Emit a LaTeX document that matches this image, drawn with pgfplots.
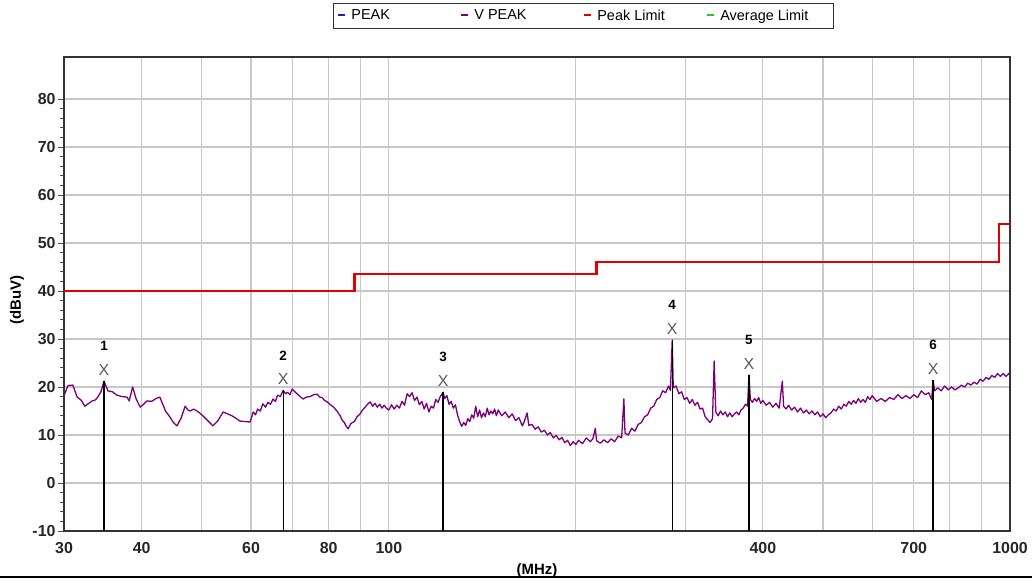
\documentclass[border=0pt]{standalone}
\usepackage{fontspec}
\setmainfont{Liberation Sans}
\usepackage{pgfplots}
\usepackage{pgfplotstable}
\pgfplotsset{compat=1.18}
\definecolor{vpeak}{HTML}{7A007A}
\definecolor{limred}{HTML}{E00000}
\definecolor{peakblue}{HTML}{2020C0}
\definecolor{avggreen}{HTML}{30C030}
\definecolor{gridgray}{HTML}{C8C8C8}
\newcommand{\legdash}[1]{\textcolor{#1}{\rule[0.3em]{7bp}{1.4bp}}\hspace{6bp}}

\pgfplotstableread{
f v
30.0 18.2
30.45 20.3
31.0 20.4
31.5 17.9
32.0 17.2
32.4 16.0
32.9 16.6
33.3 17.1
33.7 17.3
34.0 17.9
34.4 19.0
34.8 21.2
35.3 19.2
35.9 19.0
36.5 18.3
37.2 18.0
37.9 17.9
38.2 17.1
38.7 20.0
39.2 17.5
39.8 15.8
40.3 16.4
40.8 17.1
41.5 17.0
42.2 17.6
42.8 17.9
43.1 16.9
43.7 15.0
44.4 13.8
45.0 12.6
45.6 11.9
46.3 13.5
47.0 16.0
47.5 15.2
47.9 15.0
48.5 15.4
49.1 15.0
49.6 14.6
50.2 14.0
51.2 12.9
52.1 11.9
53.1 13.0
54.1 14.8
55.0 14.4
55.9 14.0
56.7 13.5
57.6 12.9
58.7 12.8
59.8 12.7
60.5 14.8
61.0 14.2
61.5 15.4
62.1 15.0
62.7 16.5
63.3 15.8
63.9 16.8
64.5 16.4
65.1 17.5
65.7 17.0
66.2 18.3
66.9 18.0
67.6 19.3
68.2 18.6
68.7 18.9
69.3 18.4
69.9 19.6
70.6 19.0
71.3 18.5
72.0 18.0
72.8 17.5
73.7 17.9
74.7 18.0
75.7 18.4
76.7 18.5
77.4 17.9
78.1 17.8
78.8 17.2
79.6 16.9
80.5 16.3
81.5 15.8
82.5 15.0
83.5 14.0
84.2 13.0
84.8 12.6
85.4 11.8
86.0 11.3
86.9 12.4
88.0 12.8
88.9 13.8
89.9 14.4
90.7 15.2
91.6 15.8
92.4 16.4
93.3 16.9
94.2 16.0
95.0 16.6
95.8 15.8
96.7 16.4
97.5 15.6
98.3 16.2
99.1 15.6
100 15.2
101 16.3
102 15.4
103 16.2
104 15.6
105 17.0
106 16.2
107 18.6
108 18.0
109 18.8
110 17.2
111 17.9
112 16.3
113 17.0
114 15.4
115 16.6
116 14.8
117 16.0
118 15.6
119 17.4
120 16.8
121 18.0
122.3 18.9
123 17.6
124 18.2
125 16.4
126 17.0
127 15.6
128 16.3
129 14.2
130 12.8
131 11.8
132 12.6
133 12.0
134 13.4
135 12.8
136 14.2
137 13.5
138 16.0
139 13.8
140 15.2
141 13.6
142 14.6
143 13.8
144 15.6
145 14.2
146 15.0
147 14.4
148 15.4
149 14.0
150 15.2
152 14.0
154 14.8
156 13.6
158 14.4
160 13.0
162 13.6
164 11.9
165 12.6
167 14.6
168 12.0
170 12.2
172 11.2
174 11.7
176 10.6
178 11.0
180 10.0
182 10.5
184 9.4
186 9.9
188 9.0
190 9.5
192 8.4
194 8.9
196 7.8
198 8.6
200 8.0
202 8.9
205 8.2
208 9.4
211 8.6
213 9.2
215 11.4
216 8.8
219 8.3
222 9.0
225 8.4
228 9.2
231 8.6
234 9.8
237 9.4
239 17.5
240 10.4
243 10.0
246 11.4
249 10.8
252 12.2
255 12.6
258 13.8
261 14.2
264 15.6
267 16.0
270 17.4
273 17.8
276 19.2
279 18.8
282 20.2
284 19.3
285.9 29.8
287 19.8
290 20.2
293 18.6
296 19.0
299 17.4
302 17.8
305 16.6
308 17.4
311 16.2
314 16.8
317 15.4
320 15.6
323 13.8
326 13.2
329 12.6
332 13.4
334 25.4
336 14.8
339 14.0
342 15.0
345 14.2
348 14.8
351 13.8
354 14.6
357 13.8
360 14.4
363 14.8
366 14.2
369 15.2
372 15.6
375 16.4
378 16.0
380 22.5
382 17.4
385 16.8
388 17.6
391 17.0
394 17.8
397 16.6
400 17.2
405 16.2
410 16.8
415 15.8
420 16.6
425 15.6
430 21.2
432 16.0
436 15.4
440 16.2
445 15.2
450 15.8
455 14.8
460 15.6
465 14.6
470 15.2
475 14.4
480 15.0
485 14.2
490 14.8
495 13.8
500 14.4
505 13.6
510 14.2
515 14.6
520 15.4
525 15.0
530 16.0
535 15.4
540 16.4
545 16.0
550 17.0
555 16.4
560 17.2
565 16.6
570 17.6
575 16.8
580 17.4
585 16.8
590 18.0
595 17.4
600 18.2
610 17.0
620 17.6
630 17.0
640 17.8
650 17.4
660 18.4
670 17.6
680 18.2
690 17.6
700 18.4
710 17.8
720 19.2
730 18.4
740 18.8
748 17.4
752 21.4
756 19.2
765 19.8
775 19.2
785 20.2
795 19.4
805 20.0
815 19.4
825 19.8
835 20.4
845 20.0
855 20.8
865 20.4
875 21.0
885 20.6
895 21.6
905 21.2
915 22.0
925 21.6
935 22.4
945 22.0
955 22.8
965 22.2
975 22.8
985 22.2
995 22.8
1000 22.4
}\trace

\pgfplotstableread{
f v
30 40
88 40
88 43.5
216 43.5
216 46
960 46
960 54
1000 54
}\peaklimit

\pgfplotstableread{
f v lab
34.8 21.2 1
67.6 19.3 2
122.3 18.9 3
285.9 29.8 4
380 22.5 5
752 21.4 6
}\markers

\begin{document}
\begin{tikzpicture}[x=1bp,y=1bp]
\useasboundingbox (0,0) rectangle (1032,581);
\begin{axis}[
  at={(64bp,50bp)}, anchor=south west,
  width=946bp, height=474bp, scale only axis,
  xmode=log, xmin=30, xmax=1000,
  ymin=-10, ymax=88.75,
  xtick={30,40,50,60,70,80,90,100,200,300,400,500,600,700,800,900,1000},
  xticklabels={30,40,,60,,80,,100,,,400,,,700,,,1000},
  xminorticks=false,
  ytick={-10,0,10,20,30,40,50,60,70,80},
  yticklabels={-10,0,10,20,30,40,50,60,70,80},
  minor y tick num=4,
  ytick pos=left,
  grid=major,
  major grid style={draw=gridgray, line width=1.2bp},
  axis line style={draw=black!80, line width=1.4bp},
  tick align=outside,
  major tick length=6bp, minor tick length=4bp,
  xtick style={draw=none},
  ytick style={draw=black!70, line width=0.8bp},
  tick label style={font=\fontsize{16}{16}\selectfont\bfseries, text=black!85},
  xticklabel style={yshift=-2bp},
  yticklabel style={xshift=1bp},
  xlabel={(MHz)},
  ylabel={(dBuV)},
  xlabel style={at={(axis description cs:0.5,-0.083)}, anchor=center, font=\fontsize{15}{15}\selectfont\bfseries},
  ylabel style={at={(axis description cs:-0.0497,0.487)}, anchor=center, rotate=0, font=\fontsize{15}{15}\selectfont\bfseries},
  legend columns=4,
  legend style={at={(0.549,1.087)}, anchor=center, draw=black!80, line width=0.8bp,
    font=\fontsize{14.5}{15}\selectfont, inner xsep=3bp, inner ysep=4.5bp,
    /tikz/every even column/.append style={column sep=0bp}},
  legend cell align=left,
  clip=false,
]
\addlegendimage{empty legend}
\addlegendentry{\legdash{peakblue}\makebox[106bp][l]{PEAK}}
\addlegendimage{empty legend}
\addlegendentry{\legdash{vpeak}\makebox[106bp][l]{V PEAK}}
\addlegendimage{empty legend}
\addlegendentry{\legdash{limred}\makebox[106bp][l]{Peak Limit}}
\addlegendimage{empty legend}
\addlegendentry{\legdash{avggreen}\makebox[108bp][l]{Average Limit}}

\addplot[forget plot, vpeak, line width=1.3bp, line join=round] table[x=f,y=v] {\trace};
\addplot[forget plot, limred, line width=2.4bp] table[x=f,y=v] {\peaklimit};

\addplot[forget plot, black, line width=1.3bp] coordinates {(34.8,-10) (34.8,21.2)};
\addplot[forget plot, black, line width=1.3bp] coordinates {(67.6,-10) (67.6,19.3)};
\addplot[forget plot, black, line width=1.3bp] coordinates {(122.3,-10) (122.3,18.9)};
\addplot[forget plot, black, line width=1.3bp] coordinates {(285.9,-10) (285.9,29.8)};
\addplot[forget plot, black, line width=1.3bp] coordinates {(380,-10) (380,22.5)};
\addplot[forget plot, black, line width=1.3bp] coordinates {(752,-10) (752,21.4)};

\addplot[forget plot, draw=none, mark=none, nodes near coords={X},
  every node near coord/.append style={anchor=center, yshift=11bp, font=\fontsize{16}{16}\selectfont, text=black!65}]
  table[x=f,y=v] {\markers};
\addplot[forget plot, draw=none, mark=none, point meta=explicit symbolic, nodes near coords,
  every node near coord/.append style={anchor=center, yshift=35bp, font=\fontsize{13.5}{13.5}\selectfont\bfseries, text=black}]
  table[x=f,y=v,meta=lab] {\markers};
\end{axis}
\draw[black, line width=1.5bp] (0,4) -- (1032,4);
\end{tikzpicture}
\end{document}
